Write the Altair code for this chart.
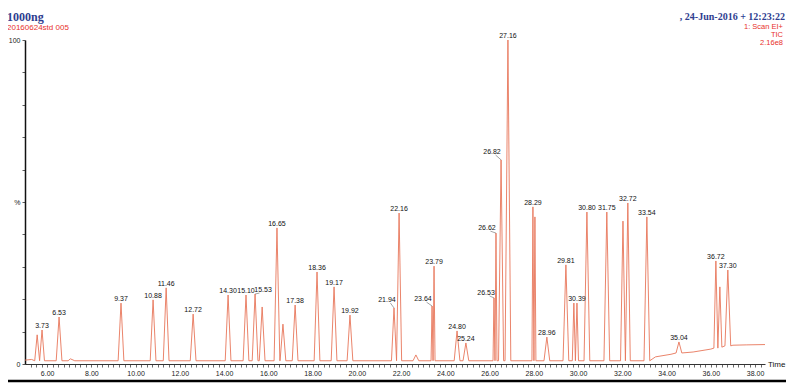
import altair as alt
import pandas as pd

# ---- data ----
peak_times = [5.55, 5.77, 6.54, 9.34, 10.79, 11.38, 12.60, 14.18, 14.99, 15.40,
              15.72, 16.39, 16.66, 17.21, 18.20, 18.97, 19.69, 21.68, 21.91, 22.67,
              23.40, 23.49, 24.53, 24.93, 26.20, 26.29, 26.52, 26.83, 27.96, 28.05,
              28.59, 29.45, 29.81, 29.95, 30.40, 31.30, 32.03, 32.25, 33.11, 34.56,
              36.23, 36.41, 36.77]
peak_heights = [9.0, 10.5, 14.5, 18.8, 19.8, 23.5, 15.4, 21.3, 21.3, 21.6,
                17.6, 42.0, 12.3, 18.2, 28.4, 23.8, 15.1, 17.3, 46.6, 2.8,
                17.9, 30.2, 10.2, 6.5, 20.4, 40.4, 63.0, 100.0, 48.5, 45.4,
                8.3, 30.6, 18.8, 18.8, 46.9, 46.9, 44.1, 49.7, 45.4, 6.8,
                31.8, 23.8, 29.0]
peak_bases = [1.0] * 39 + [3.4, 4.9, 5.2, 5.6]
peak_labels = ["", "3.73", "6.53", "9.37", "10.88", "11.46", "12.72", "14.30", "15.10", "15.53",
               "", "16.65", "", "17.38", "18.36", "19.17", "19.92", "21.94", "22.16", "",
               "23.64", "23.79", "24.80", "25.24", "26.53", "26.62", "26.82", "27.16", "28.29", "",
               "28.96", "29.81", "", "30.39", "30.80", "31.75", "", "32.72", "33.54", "35.04",
               "36.72", "", "37.30"]

baseline_times = [5.0, 5.3, 6.95, 7.05, 7.25, 33.5, 34.2, 35.2, 36.0, 37.0, 37.6, 38.45]
baseline_values = [1.2, 1.4, 1.0, 1.6, 1.0, 2.2, 3.0, 3.7, 4.6, 5.8, 5.9, 6.0]

x_tick_values = [round(5.25 + 0.25 * i, 2) for i in range(133)]
x_label_values = [6, 8, 10, 12, 14, 16, 18, 20, 22, 24, 26, 28, 30, 32, 34, 36, 38]
y_tick_values = [0, 10, 20, 30, 40, 50, 60, 70, 80, 90, 100]

header_left = ["1000ng", "20160624std 005"]
header_right = [", 24-Jun-2016 + 12:23:22", "1: Scan EI+", "TIC", "2.16e8"]

# leader-line label offsets (time units, percent units)
label_offsets = {"15.53": (0.36, 0.0), "21.94": (-0.32, 1.2), "23.64": (-0.41, 0.9),
                 "26.53": (-0.36, 0.3), "26.62": (-0.41, 0.3), "26.82": (-0.41, 1.2)}

# ---- build trace table ----
n = len(peak_times)
events = []
for k in range(n):
    t = peak_times[k]
    gap_l = t - peak_times[k - 1] if k > 0 else 1.0
    gap_r = peak_times[k + 1] - t if k < n - 1 else 1.0
    hw = min(0.13, gap_l / 2, gap_r / 2)
    events.append((t - hw, peak_bases[k]))
    events.append((t, peak_heights[k]))
    events.append((t + hw, peak_bases[k]))
for t, v in zip(baseline_times, baseline_values):
    events.append((t, v))
events = sorted(enumerate(events), key=lambda e: (e[1][0], e[0]))
trace = pd.DataFrame({"t": [e[1][0] for e in events],
                      "v": [e[1][1] for e in events],
                      "i": list(range(len(events)))})

lab_rows = []
for k in range(n):
    if peak_labels[k]:
        dx, dy = label_offsets.get(peak_labels[k], (0.0, 0.0))
        lab_rows.append({"t": peak_times[k], "h": peak_heights[k],
                         "lx": peak_times[k] + dx, "ly": peak_heights[k] + dy,
                         "text": peak_labels[k], "lead": (dx != 0 or dy != 0)})
labels = pd.DataFrame(lab_rows)
leaders = labels[labels["lead"]].copy()
leaders["ex"] = leaders["lx"] + leaders.apply(lambda r: 0.16 if r["t"] > r["lx"] else -0.16, axis=1)
leaders["ey"] = leaders["ly"] + 0.3

FONT = "Liberation Sans"
xscale = alt.Scale(domain=[5.0, 38.45], nice=False, zero=False)
yscale = alt.Scale(domain=[0, 100], nice=False)

label_js = "[" + ",".join(str(v) for v in x_label_values) + "]"
xaxis = alt.Axis(values=x_tick_values, title=None, grid=False,
                 labelExpr="indexof(" + label_js + ", datum.value) >= 0 ? format(datum.value, '.2f') : ''",
                 labelFont=FONT, labelFontSize=7, labelColor="#222", labelPadding=2,
                 tickSize=3, tickColor="#444", tickWidth=0.8,
                 domainColor="#333", domainWidth=1, labelOverlap=False, labelFlush=False,
                 labelBound=False)
yaxis = alt.Axis(values=y_tick_values, title=None, grid=False,
                 labelExpr="datum.value == 100 ? '100' : datum.value == 50 ? '%' : datum.value == 0 ? '0' : ''",
                 labelFont=FONT, labelFontSize=7, labelColor="#222", labelPadding=2,
                 tickSize=3, tickColor="#333", tickWidth=0.8,
                 domainColor="#111", domainWidth=1.5, labelOverlap=False, labelFlush=False,
                 labelBound=False)

line = alt.Chart(trace).mark_line(color="#e8765a", strokeWidth=0.9).encode(
    x=alt.X("t:Q", scale=xscale, axis=xaxis),
    y=alt.Y("v:Q", scale=yscale, axis=yaxis),
    order="i:Q",
)

texts = alt.Chart(labels).mark_text(baseline="bottom", dy=-1, font=FONT, fontSize=7,
                                    color="#111").encode(
    x=alt.X("lx:Q", scale=xscale, axis=xaxis), y=alt.Y("ly:Q", scale=yscale, axis=yaxis),
    text="text:N")

leads = alt.Chart(leaders).mark_rule(color="#666", strokeWidth=0.6).encode(
    x=alt.X("t:Q", scale=xscale, axis=xaxis), y=alt.Y("h:Q", scale=yscale, axis=yaxis),
    x2="ex:Q", y2="ey:Q")

one = pd.DataFrame({"a": [0]})
hdr = [
    alt.Chart(one).mark_text(text=header_left[0], align="left", baseline="middle",
                             font="Liberation Serif", fontWeight="bold", fontSize=12,
                             color="#2e3d8f").encode(x=alt.value(-18), y=alt.value(-23)),
    alt.Chart(one).mark_text(text=header_left[1], align="left", baseline="middle",
                             font=FONT, fontSize=8, color="#e8302a").encode(x=alt.value(-18), y=alt.value(-12)),
    alt.Chart(one).mark_text(text=header_right[0], align="right", baseline="middle",
                             font="Liberation Serif", fontWeight="bold", fontSize=10,
                             color="#2e3d8f").encode(x=alt.value(760), y=alt.value(-23)),
    alt.Chart(one).mark_text(text=header_right[1], align="right", baseline="middle",
                             font=FONT, fontSize=7.5, color="#e8302a").encode(x=alt.value(758), y=alt.value(-13)),
    alt.Chart(one).mark_text(text=header_right[2], align="right", baseline="middle",
                             font=FONT, fontSize=7.5, color="#e8302a").encode(x=alt.value(758), y=alt.value(-5)),
    alt.Chart(one).mark_text(text=header_right[3], align="right", baseline="middle",
                             font=FONT, fontSize=7.5, color="#e8302a").encode(x=alt.value(758), y=alt.value(3)),
    alt.Chart(one).mark_text(text="Time", align="left", baseline="middle",
                             font=FONT, fontSize=8, color="#111").encode(x=alt.value(743), y=alt.value(325)),
    alt.Chart(one).mark_rule(color="#000", strokeWidth=2.5).encode(
        x=alt.value(-18), x2=alt.value(761), y=alt.value(341)),
]

chart = alt.layer(line, leads, texts, *hdr).properties(
    width=740, height=324,
    padding={"left": 17, "top": 32, "right": 37, "bottom": 22},
    autosize="none",
).configure_view(stroke=None).configure_axis(labelOverlap=False)

chart.save("out.html", embed_options={"renderer": "svg", "actions": False})
